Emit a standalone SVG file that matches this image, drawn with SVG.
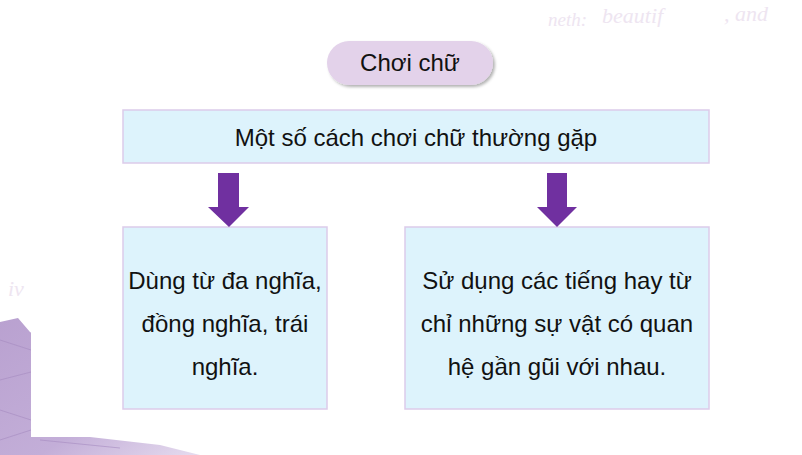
<svg xmlns="http://www.w3.org/2000/svg" width="802" height="455" viewBox="0 0 802 455">
<defs>
<style>
.box{fill:#DDF3FC;stroke:#DCCBEA;stroke-width:1.5}
.t{font-family:"Liberation Sans",Arial,sans-serif;font-size:24px;fill:#111;text-anchor:middle}
.arrow{fill:#7030A0}
.deco{font-family:"Liberation Serif","Times New Roman",serif;font-style:italic;fill:#EEE5F1}
</style>
<linearGradient id="paper" x1="0" y1="0" x2="1" y2="1">
<stop offset="0" stop-color="#B9A1D0"/>
<stop offset="0.6" stop-color="#C3AED8"/>
<stop offset="1" stop-color="#E6DCEF"/>
</linearGradient>
<filter id="sh" x="-10%" y="-20%" width="130%" height="160%">
<feDropShadow dx="2" dy="2" stdDeviation="1.5" flood-color="#000" flood-opacity="0.3"/>
</filter>
</defs>
<rect width="802" height="455" fill="#FFFFFF"/>
<g id="decor">
<path d="M0 322 L18 318 L30 332 L60 350 L31 437 L90 437 L160 445 L200 455 L0 455 Z" fill="url(#paper)"/>
<path d="M0 340 L31 350 M0 380 L31 372 M0 410 L31 420 M40 440 L120 448 M0 440 L31 430" stroke="#A58BC0" stroke-width="1" fill="none" opacity="0.6"/>
<text x="548" y="26" class="deco" font-size="19">neth:</text>
<text x="602" y="23" class="deco" font-size="22">beautif</text>
<text x="724" y="21" class="deco" font-size="22">, and</text>
<text x="8" y="296" class="deco" font-size="22">iv</text>
</g>
<rect x="31" y="27" width="756" height="410" fill="#FFFFFF"/>
<g id="title">
<rect x="327" y="41" width="166" height="44" rx="22" fill="#E3D2EA" filter="url(#sh)"/>
<text x="410" y="71" class="t">Chơi chữ</text>
</g>
<g id="main">
<rect class="box" x="123" y="110" width="586" height="53"/>
<text x="416" y="146" class="t">Một số cách chơi chữ thường gặp</text>
</g>
<g id="left">
<rect class="box" x="123" y="227" width="204" height="182"/>
<text class="t" x="225" y="289">Dùng từ đa nghĩa,</text>
<text class="t" x="225" y="332">đồng nghĩa, trái</text>
<text class="t" x="225" y="375">nghĩa.</text>
</g>
<g id="right">
<rect class="box" x="405" y="227" width="304" height="182"/>
<text class="t" x="557" y="289">Sử dụng các tiếng hay từ</text>
<text class="t" x="557" y="332">chỉ những sự vật có quan</text>
<text class="t" x="557" y="375">hệ gần gũi với nhau.</text>
</g>
<g id="connectors">
<path class="arrow" d="M218 173 H239 V207 H249 L229 227 L208 207 H218 Z"/>
<path class="arrow" d="M547 173 H567 V207 H577 L557 227 L537 207 H547 Z"/>
</g>
</svg>
